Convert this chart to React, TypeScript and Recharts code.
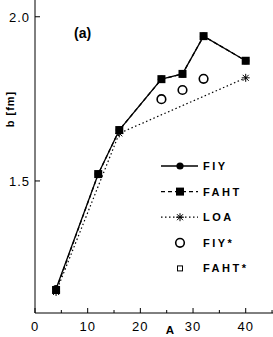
import React from "react"
import { ComposedChart, Line, XAxis, YAxis, Scatter } from "recharts"

// values
const aFull = [4, 12, 16, 24, 28, 32, 40]
const fiy = [1.172, 1.521, 1.655, 1.81, 1.826, 1.941, 1.866]
const faht = [1.168, 1.521, 1.655, 1.81, 1.826, 1.941, 1.866]
const aLoa = [4, 16, 40]
const loa = [1.162, 1.645, 1.814]
const aStar = [24, 28, 32]
const fiyStar = [1.749, 1.777, 1.811]
const fahtStar = [1.749, 1.777, 1.811]
const xTicks = [0, 5, 10, 15, 20, 25, 30, 35, 40, 45]
const yTicks = [1.5, 2.0]

const fiyData = aFull.map((a, i) => ({ a, b: fiy[i] }))
const fahtData = aFull.map((a, i) => ({ a, b: faht[i] }))
const loaData = aLoa.map((a, i) => ({ a, b: loa[i] }))
const fiyStarData = aStar.map((a, i) => ({ a, b: fiyStar[i] }))
const fahtStarData = aStar.map((a, i) => ({ a, b: fahtStar[i] }))

const FONT = "'Liberation Sans', Arial, sans-serif"

const Circle = ({ cx, cy }: any) => <circle cx={cx} cy={cy} r={3.6} fill="#000" />
const Square = ({ cx, cy }: any) => <rect x={cx - 4} y={cy - 4} width={8} height={8} fill="#000" />
const Star = ({ cx, cy }: any) => (
  <g stroke="#000" strokeWidth={1}>
    <line x1={cx - 4} y1={cy} x2={cx + 4} y2={cy} />
    <line x1={cx} y1={cy - 4} x2={cx} y2={cy + 4} />
    <line x1={cx - 3} y1={cy - 3} x2={cx + 3} y2={cy + 3} />
    <line x1={cx - 3} y1={cy + 3} x2={cx + 3} y2={cy - 3} />
  </g>
)
const OpenCircle = ({ cx, cy }: any) => <circle cx={cx} cy={cy} r={4.3} fill="#fff" stroke="#000" strokeWidth={1.6} />
const OpenSquare = ({ cx, cy }: any) => <rect x={cx - 2.5} y={cy - 2.5} width={5} height={5} fill="#fff" stroke="#000" strokeWidth={1} />

const XTick = ({ x, y, payload }: any) => {
  const major = payload.value % 10 === 0
  return (
    <g>
      <line x1={x} y1={y} x2={x} y2={y - (major ? 5 : 3)} stroke="#000" />
      {major && (
        <text x={x} y={y + 18} textAnchor="middle" fontFamily={FONT} fontSize={13} letterSpacing={1} fill="#000">
          {payload.value}
        </text>
      )}
    </g>
  )
}

const YTick = ({ x, y, payload }: any) => (
  <g>
    <line x1={x} y1={y} x2={x + 5} y2={y} stroke="#000" />
    <text x={x - 5} y={y + 5} textAnchor="end" fontFamily={FONT} fontSize={13} letterSpacing={1} fill="#000">
      {payload.value.toFixed(1)}
    </text>
  </g>
)

const legendItems = [
  { name: "FIY", dash: "", marker: Circle, line: true },
  { name: "FAHT", dash: "4 3", marker: Square, line: true },
  { name: "LOA", dash: "1.5 2.5", marker: Star, line: true },
  { name: "FIY*", dash: "", marker: OpenCircle, line: false },
  { name: "FAHT*", dash: "", marker: OpenSquare, line: false },
]

function LegendBox() {
  return (
    <svg width={120} height={130} style={{ position: "absolute", left: 155, top: 152 }}>
      {legendItems.map((it, i) => {
        const y = 14 + i * 25.6
        const M = it.marker
        return (
          <g key={it.name}>
            {it.line && (
              <line x1={6} x2={43} y1={y} y2={y} stroke="#000" strokeWidth={1.3} strokeDasharray={it.dash || undefined} />
            )}
            <M cx={25} cy={y} />
            <text x={48} y={y + 4} fontFamily={FONT} fontWeight="bold" fontSize={11} letterSpacing={2.5} fill="#000">
              {it.name}
            </text>
          </g>
        )
      })}
    </svg>
  )
}

export default function App() {
  return (
    <div style={{ position: "absolute", left: 0, top: 0, width: 273, height: 337, background: "#fff" }}>
      <ComposedChart width={273} height={337} margin={{ top: 0, right: 0, bottom: 0, left: 0 }}>
        <XAxis
          type="number"
          dataKey="a"
          domain={[0, 45.18]}
          ticks={xTicks}
          interval={0}
          tickSize={0}
          tickMargin={0}
          tick={<XTick />}
          height={24}
          axisLine={{ stroke: "#000" }}
          allowDataOverflow
        />
        <YAxis
          type="number"
          dataKey="b"
          domain={[1.098, 2.051]}
          ticks={yTicks}
          interval={0}
          tickSize={0}
          tickMargin={0}
          tick={<YTick />}
          width={35}
          axisLine={{ stroke: "#000" }}
          allowDataOverflow
        />
        <Line data={loaData} dataKey="b" stroke="#000" strokeWidth={1.2} strokeDasharray="1.5 2.5" dot={<Star />} isAnimationActive={false} />
        <Line data={fiyData} dataKey="b" stroke="#000" strokeWidth={1.3} dot={<Circle />} isAnimationActive={false} />
        <Line data={fahtData} dataKey="b" stroke="#000" strokeWidth={1.3} strokeDasharray="4 3" dot={<Square />} isAnimationActive={false} />
        <Scatter data={fahtStarData} dataKey="b" shape={<OpenSquare />} isAnimationActive={false} />
        <Scatter data={fiyStarData} dataKey="b" shape={<OpenCircle />} isAnimationActive={false} />
        <text x={74} y={38} fontFamily={FONT} fontWeight="bold" fontSize={14} fill="#000">(a)</text>
        <text x={14} y={109} transform="rotate(-90 14 109)" textAnchor="middle" fontFamily={FONT} fontWeight="bold" fontSize={11} letterSpacing={1} fill="#000">b [fm]</text>
        <text x={170} y={334} textAnchor="middle" fontFamily={FONT} fontWeight="bold" fontSize={11.5} fill="#000">A</text>
      </ComposedChart>
      <LegendBox />
    </div>
  )
}
